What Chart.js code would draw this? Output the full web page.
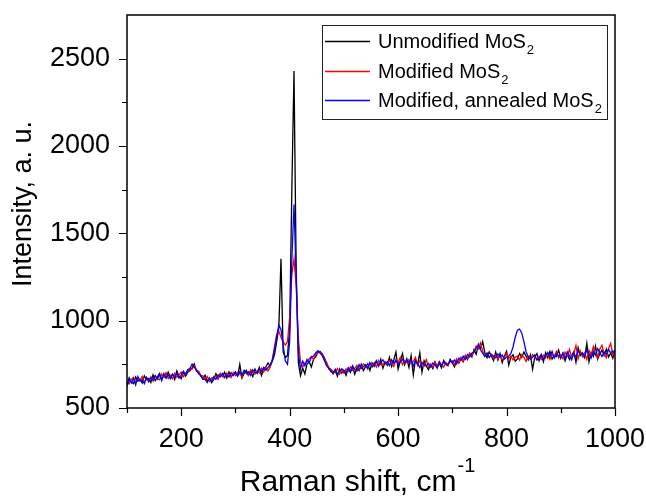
<!DOCTYPE html>
<html>
<head>
<script src="https://cdn.jsdelivr.net/npm/chart.js"></script>
<style>
  body { margin: 0; background: #fff; }
</style>
</head>
<body>
<canvas id="ramanChart" width="646" height="496"></canvas>
<script>
// Raman shift grid, cm-1 (every 4 cm-1 from 100 to 1000)
const shiftStart = 100, shiftEnd = 1000, shiftStep = 4;
const shifts = [];
for (let s = shiftStart; s <= shiftEnd; s += shiftStep) shifts.push(s);

// Intensity, a.u. — one row per 40 cm-1
const unmodified = [
  632, 673, 650, 639, 678, 654, 665, 644, 684, 662,
  669, 646, 690, 656, 678, 698, 665, 684, 670, 706,
  677, 694, 662, 713, 681, 668, 705, 682, 705, 713,
  730, 752, 712, 706, 682, 668, 688, 652, 672, 645,
  663, 696, 670, 696, 680, 705, 671, 706, 680, 691,
  708, 683, 750, 671, 698, 716, 689, 708, 680, 723,
  698, 732, 686, 724, 735, 758, 740, 768, 805, 880,
  960, 1355, 820, 790, 800, 960, 1750, 2430, 1300, 760,
  685, 728, 695, 752, 765, 735, 778, 792, 818, 825,
  810, 788, 758, 725, 718, 695, 720, 682, 724, 700,
  712, 686, 728, 704, 738, 693, 730, 714, 750, 714,
  737, 754, 715, 758, 738, 766, 740, 780, 728, 762,
  745, 790, 738, 775, 820, 722, 767, 812, 748, 782,
  732, 800, 690, 778, 748, 815, 705, 770, 740, 720,
  746, 725, 764, 735, 756, 730, 772, 749, 742, 779,
  758, 735, 775, 758, 784, 765, 797, 778, 812, 792,
  835, 808, 865, 840, 880, 815, 788, 822, 798, 772,
  820, 775, 812, 760, 797, 825, 745, 790, 805, 768,
  781, 812, 790, 820, 797, 775, 804, 722, 791, 812,
  771, 802, 764, 817, 787, 824, 780, 802, 795, 832,
  785, 815, 770, 808, 778, 800, 822, 762, 845, 800,
  810, 788, 870, 765, 818, 795, 855, 780, 810, 832,
  800, 838, 792, 815, 785, 830
];
const modified = [
  654, 639, 664, 676, 647, 673, 658, 680, 646, 669,
  657, 680, 654, 686, 668, 661, 695, 676, 702, 668,
  687, 667, 700, 676, 690, 706, 679, 698, 712, 725,
  722, 742, 716, 712, 686, 684, 664, 680, 652, 672,
  674, 684, 664, 699, 683, 672, 700, 688, 674, 703,
  686, 704, 694, 678, 713, 698, 686, 719, 701, 694,
  714, 700, 728, 706, 732, 712, 734, 780, 850, 920,
  940, 905, 880, 860, 880, 1020, 1260, 1355, 1200, 900,
  765, 735, 758, 766, 782, 795, 778, 806, 815, 822,
  808, 776, 762, 732, 722, 710, 700, 726, 694, 718,
  700, 724, 710, 736, 716, 726, 745, 719, 731, 752,
  744, 722, 756, 746, 760, 734, 772, 748, 744, 766,
  752, 772, 757, 738, 778, 760, 790, 748, 772, 760,
  778, 755, 766, 790, 744, 770, 751, 740, 778, 732,
  752, 734, 761, 741, 767, 749, 734, 761, 746, 767,
  770, 748, 782, 758, 790, 768, 802, 784, 815, 800,
  822, 855, 838, 872, 825, 795, 815, 790, 808, 784,
  805, 782, 797, 775, 790, 812, 782, 797, 775, 790,
  797, 775, 805, 790, 767, 797, 782, 805, 790, 775,
  794, 779, 802, 786, 817, 779, 802, 794, 824, 786,
  805, 782, 820, 798, 835, 790, 812, 857, 782, 827,
  792, 815, 778, 830, 800, 852, 808, 785, 838, 860,
  810, 788, 840, 870, 803, 832
];
const annealed = [
  624, 662, 643, 669, 632, 680, 654, 662, 639, 676,
  650, 672, 661, 684, 665, 691, 657, 698, 676, 690,
  667, 692, 680, 699, 672, 688, 710, 692, 720, 726,
  752, 732, 718, 696, 688, 664, 664, 646, 670, 655,
  679, 664, 690, 678, 698, 678, 690, 678, 703, 686,
  701, 683, 708, 689, 716, 698, 708, 686, 719, 704,
  702, 726, 710, 732, 716, 732, 745, 775, 830, 910,
  975, 950, 860, 770, 750, 880, 1350, 1665, 1250, 820,
  725, 768, 742, 778, 758, 790, 798, 815, 828, 815,
  800, 772, 742, 728, 708, 703, 718, 694, 711, 724,
  716, 700, 730, 710, 742, 720, 712, 748, 726, 736,
  748, 730, 760, 735, 750, 772, 740, 762, 776, 752,
  765, 742, 776, 757, 772, 750, 765, 780, 757, 772,
  760, 778, 740, 770, 755, 732, 762, 751, 740, 755,
  735, 758, 747, 727, 762, 742, 765, 753, 750, 772,
  758, 775, 752, 786, 774, 796, 778, 806, 792, 815,
  818, 845, 860, 832, 812, 795, 813, 790, 806, 798,
  788, 810, 793, 803, 780, 792, 797, 812, 850, 905,
  945, 952, 930, 880, 822, 792, 780, 790, 805, 775,
  786, 808, 779, 801, 816, 794, 824, 786, 809, 800,
  791, 813, 783, 821, 800, 776, 813, 792, 828, 806,
  816, 794, 832, 810, 786, 824, 802, 840, 817, 794,
  821, 806, 836, 815, 828, 806
];

const seriesNames = ['Unmodified MoS', 'Modified MoS', 'Modified, annealed MoS'];
const seriesColors = ['#000000', '#ff0000', '#0000ff'];
const xLabelSteps = [200, 400, 600, 800, 1000];
const yLabelSteps = [500, 1000, 1500, 2000, 2500];

const FONT = '"Liberation Sans", Arial, sans-serif';

const toPoints = vals => vals.map((v, i) => ({ x: shifts[i], y: v }));

// frame, tick marks, axis titles and the legend box
const decorations = {
  id: 'decorations',
  afterDraw(chart) {
    const ctx = chart.ctx;
    const a = chart.chartArea;
    const xs = chart.scales.x, ys = chart.scales.y;
    ctx.save();
    ctx.strokeStyle = '#000';
    ctx.lineWidth = 1.5;
    ctx.strokeRect(a.left, a.top, a.right - a.left, a.bottom - a.top);

    ctx.lineWidth = 1.2;
    ctx.beginPath();
    for (let v = 100; v <= 1000; v += 100) {
      const px = Math.round(xs.getPixelForValue(v)) + 0.5;
      const len = xLabelSteps.includes(v) ? 8 : 5;
      ctx.moveTo(px, a.bottom);
      ctx.lineTo(px, a.bottom + len);
    }
    for (let v = 500; v < 2750; v += 250) {
      const py = Math.round(ys.getPixelForValue(v)) + 0.5;
      const len = yLabelSteps.includes(v) ? 8 : 5;
      ctx.moveTo(a.left, py);
      ctx.lineTo(a.left - len, py);
    }
    ctx.stroke();

    // y title
    ctx.fillStyle = '#000';
    ctx.save();
    ctx.translate(24, 204);
    ctx.rotate(-Math.PI / 2);
    ctx.font = '27px ' + FONT;
    ctx.textAlign = 'center';
    ctx.textBaseline = 'middle';
    ctx.fillText('Intensity, a. u.', 0, 0);
    ctx.restore();

    // x title with superscript
    ctx.font = '30px ' + FONT;
    const main = 'Raman shift, cm';
    const mw = ctx.measureText(main).width;
    ctx.font = '20px ' + FONT;
    const sup = '-1';
    const sw = ctx.measureText(sup).width;
    const x0 = 357 - (mw + sw) / 2;
    ctx.textAlign = 'left';
    ctx.textBaseline = 'alphabetic';
    ctx.font = '30px ' + FONT;
    ctx.fillText(main, x0, 491);
    ctx.font = '20px ' + FONT;
    ctx.fillText(sup, x0 + mw + 1, 472);

    // legend
    const lx = 322.5, ly = 25.5, lw = 285, lh = 94;
    ctx.fillStyle = '#fff';
    ctx.fillRect(lx, ly, lw, lh);
    ctx.strokeStyle = '#222';
    ctx.lineWidth = 1;
    ctx.strokeRect(lx, ly, lw, lh);
    const rows = [41, 71, 100];
    seriesNames.forEach((name, i) => {
      const y = rows[i];
      ctx.strokeStyle = seriesColors[i];
      ctx.lineWidth = 1.3;
      ctx.beginPath();
      ctx.moveTo(325, y + 0.5);
      ctx.lineTo(370, y + 0.5);
      ctx.stroke();
      ctx.fillStyle = '#000';
      ctx.font = '20px ' + FONT;
      ctx.fillText(name, 378, y + 7);
      const nw = ctx.measureText(name).width;
      ctx.font = '13px ' + FONT;
      ctx.fillText('2', 378 + nw + 1, y + 13);
    });
    ctx.restore();
  }
};

const ctx = document.getElementById('ramanChart').getContext('2d');
new Chart(ctx, {
  type: 'line',
  data: {
    datasets: [
      { label: seriesNames[0], data: toPoints(unmodified), borderColor: seriesColors[0], order: 3 },
      { label: seriesNames[1], data: toPoints(modified), borderColor: seriesColors[1], order: 2 },
      { label: seriesNames[2], data: toPoints(annealed), borderColor: seriesColors[2], order: 1 }
    ]
  },
  options: {
    responsive: false,
    animation: false,
    layout: { padding: { top: 15, right: 31, left: 0, bottom: 0 } },
    elements: {
      point: { radius: 0 },
      line: { borderWidth: 1.3, tension: 0 }
    },
    plugins: {
      legend: { display: false },
      tooltip: { enabled: false }
    },
    scales: {
      x: {
        type: 'linear',
        min: 100,
        max: 1000,
        grid: { display: false },
        border: { display: false },
        afterFit: s => { s.height = 88; s.paddingLeft = 0; s.paddingRight = 0; },
        ticks: {
          stepSize: 100,
          autoSkip: false,
          maxRotation: 0,
          padding: 7,
          color: '#000',
          font: { family: FONT, size: 27 },
          callback: v => xLabelSteps.includes(v) ? String(v) : ''
        }
      },
      y: {
        min: 500,
        max: 2750,
        grid: { display: false },
        border: { display: false },
        afterFit: s => { s.width = 127; s.paddingTop = 0; s.paddingBottom = 0; },
        ticks: {
          stepSize: 250,
          padding: 9,
          color: '#000',
          font: { family: FONT, size: 27 },
          callback: v => yLabelSteps.includes(v) ? String(v) : ''
        }
      }
    }
  },
  plugins: [decorations]
});
</script>
</body>
</html>
